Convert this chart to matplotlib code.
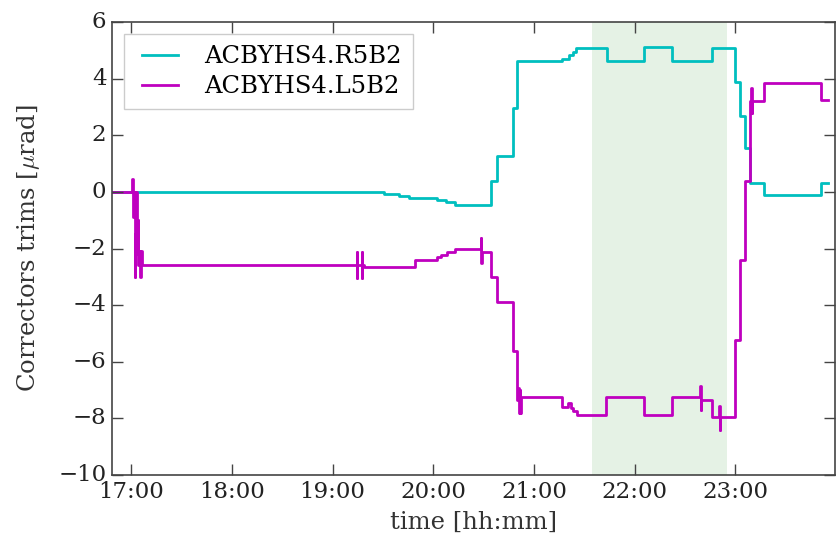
import matplotlib
matplotlib.use("Agg")
import matplotlib.pyplot as plt
from matplotlib.ticker import FuncFormatter, MultipleLocator

plt.style.use("classic")
plt.rcParams["font.family"] = "DejaVu Serif"

# times in decimal hours, values in urad (step changes, 'post')
r5b2_t = [16.80, 19.508, 19.658, 19.757, 20.039, 20.128, 20.217, 20.569, 20.633,
          20.792, 20.832, 21.273, 21.345, 21.389, 21.415, 21.72, 22.096, 22.374,
          22.772, 22.997, 23.05, 23.09, 23.14, 23.285, 23.853, 23.92]
r5b2_v = [0.0, -0.09, -0.15, -0.23, -0.29, -0.37, -0.46, 0.39, 1.27,
          2.95, 4.62, 4.68, 4.83, 4.95, 5.07, 4.62, 5.11, 4.62,
          5.07, 3.89, 2.69, 1.54, 0.32, -0.11, 0.30, 0.30]

l5b2_t = [16.80, 17.012, 17.018, 17.026, 17.034, 17.040, 17.048, 17.056, 17.064,
          17.072, 17.085, 17.091, 17.098, 17.106,
          19.240, 19.243, 19.246, 19.288, 19.291, 19.294, 19.315,
          19.82, 20.04, 20.08, 20.14, 20.22, 20.47, 20.475, 20.48,
          20.57, 20.63, 20.79, 20.83, 20.845, 20.85, 20.856, 20.862, 20.868, 20.875,
          21.28, 21.34, 21.365, 21.39, 21.43,
          21.71, 22.095, 22.374, 22.65, 22.654, 22.658, 22.662,
          22.77, 22.84, 22.844, 22.848, 22.852,
          22.997, 23.05, 23.09, 23.145, 23.158, 23.162, 23.166, 23.285, 23.85, 23.92]
l5b2_v = [0.0, 0.45, -0.9, 0.0, -3.0, -1.5, 0.0, -2.2, -1.0,
          -2.58, -2.1, -3.0, -2.1, -2.58,
          -2.11, -3.03, -2.58, -2.11, -3.03, -2.58, -2.66,
          -2.41, -2.31, -2.23, -2.13, -2.03, -1.62, -2.5, -2.11,
          -3.0, -3.88, -5.62, -7.35, -6.93, -7.82, -7.0, -7.82, -7.35, -7.26,
          -7.59, -7.47, -7.65, -7.74, -7.88,
          -7.26, -7.88, -7.26, -6.86, -7.70, -7.26, -7.35,
          -7.96, -7.56, -8.41, -7.96, -7.96,
          -5.23, -2.41, 0.39, 3.22, 3.66, 2.78, 3.22, 3.86, 3.24, 3.24]

shade_start, shade_end = 21.58, 22.92

fig = plt.figure(figsize=(8.36, 5.42), dpi=100, facecolor="white")
ax = fig.add_axes([0.134, 0.1236, 0.865, 0.8358])

ax.axvspan(shade_start, shade_end, color="green", alpha=0.1, lw=0)
ax.step(r5b2_t, r5b2_v, where="post", color=(0, 0.75, 0.75), lw=2, label="ACBYHS4.R5B2")
ax.step(l5b2_t, l5b2_v, where="post", color=(0.75, 0, 0.75), lw=2, label="ACBYHS4.L5B2")

ax.set_xlim(16.81, 23.99)
ax.set_ylim(-10, 6)
ax.xaxis.set_major_locator(MultipleLocator(1))
ax.xaxis.set_major_formatter(FuncFormatter(lambda x, p: "%02d:%02d" % (int(round(x * 60)) // 60, int(round(x * 60)) % 60)))
ax.yaxis.set_major_locator(MultipleLocator(2))
ax.tick_params(labelsize=16.5, length=8, width=1, color="#444444", labelcolor="#222222")
for s in ax.spines.values():
    s.set_color("#444444")
    s.set_linewidth(1.2)

ax.set_xlabel("time [hh:mm]", fontsize=17.5, color="#333333", labelpad=6)
ax.set_ylabel("Correctors trims [$\\mu$rad]", fontsize=17.5, color="#333333", labelpad=12)
ax.legend(loc="upper left", fontsize=17.5, frameon=True, edgecolor="#cccccc",
          handlelength=2.05, handletextpad=0.8, borderpad=0.45, labelspacing=0.3)

fig.savefig("out.png", dpi=100, facecolor="white")
